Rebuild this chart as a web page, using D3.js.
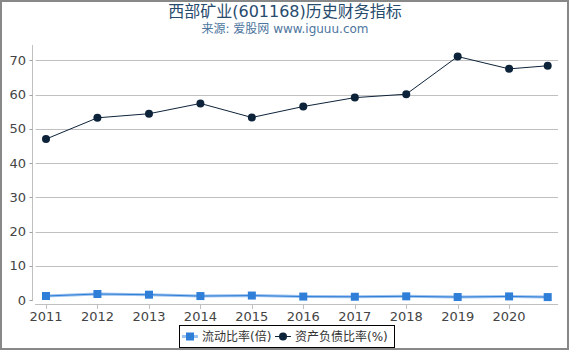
<!DOCTYPE html>
<html>
<head>
<meta charset="utf-8">
<script src="https://cdn.jsdelivr.net/npm/d3@7"></script>
<style>
  body { margin: 0; background: #fff; }
  text { font-family: "DejaVu Sans", "Noto Sans CJK SC", sans-serif; }
</style>
</head>
<body>
<div id="chart"></div>
<script>
// data
const dates = ["2011-01-01", "2012-01-01", "2013-01-01", "2014-01-01", "2015-01-01",
    "2016-01-01", "2017-01-01", "2018-01-01", "2019-01-01", "2020-01-01", "2020-10-01"];
const currentRatio = [1.17, 1.75, 1.55, 1.15, 1.3, 1.0, 0.95, 1.07, 0.87, 1.05, 0.85];
const debtRatio = [47.0, 53.2, 54.4, 57.4, 53.3, 56.5, 59.1, 60.1, 71.1, 67.5, 68.4];
const yTicks = [0, 10, 20, 30, 40, 50, 60, 70];
const seriesNames = ["流动比率(倍)", "资产负债比率(%)"];

const W = 570, H = 350;
const parse = d3.timeParse("%Y-%m-%d");
const xDates = dates.map(parse);

const svg = d3.select("#chart").append("svg")
    .attr("width", W)
    .attr("height", H);

svg.append("rect")
    .attr("x", 1).attr("y", 1)
    .attr("width", W - 3).attr("height", H - 2)
    .attr("fill", "#fff")
    .attr("stroke", "#888")
    .attr("stroke-width", 2);

// titles
svg.append("text")
    .attr("x", 285).attr("y", 17)
    .attr("text-anchor", "middle")
    .attr("font-size", "16px")
    .attr("fill", "#274b6d")
    .text("西部矿业(601168)历史财务指标");
svg.append("text")
    .attr("x", 285).attr("y", 33)
    .attr("text-anchor", "middle")
    .attr("font-size", "12px")
    .attr("fill", "#4d759e")
    .text("来源: 爱股网 www.iguuu.com");

const plotLeft = 32.5, plotRight = 558, plotTop = 45, plotBottom = 304;

const xScale = d3.scaleTime().domain(d3.extent(xDates)).range([46, 547.7]);
const yScale = d3.scaleLinear().domain([0, 70]).range([300, 60.3]);

// horizontal grid lines
svg.selectAll(".grid")
    .data(yTicks.filter(d => d > 0))
    .enter().append("line")
    .attr("class", "grid")
    .attr("x1", 35.5)
    .attr("x2", plotRight)
    .attr("y1", d => Math.round(yScale(d)) + 0.5)
    .attr("y2", d => Math.round(yScale(d)) + 0.5)
    .attr("stroke", "#c0c0c0")
    .attr("stroke-width", 1);

// y axis
svg.append("line")
    .attr("x1", plotLeft).attr("x2", plotLeft)
    .attr("y1", plotTop).attr("y2", 301)
    .attr("stroke", "#c0c0c0");
svg.selectAll(".ytick")
    .data(yTicks)
    .enter().append("line")
    .attr("class", "ytick")
    .attr("x1", 29.5).attr("x2", plotLeft)
    .attr("y1", d => Math.round(yScale(d)) + 0.5)
    .attr("y2", d => Math.round(yScale(d)) + 0.5)
    .attr("stroke", "#a0a0a0");
svg.selectAll(".ylabel")
    .data(yTicks)
    .enter().append("text")
    .attr("class", "ylabel")
    .attr("x", 26)
    .attr("y", d => yScale(d) + 4.5)
    .attr("text-anchor", "end")
    .attr("font-size", "13px")
    .attr("fill", "#444")
    .text(d => d);

// x axis
svg.append("line")
    .attr("x1", 35).attr("x2", plotRight)
    .attr("y1", plotBottom + 0.5).attr("y2", plotBottom + 0.5)
    .attr("stroke", "#c0c0c0");
const xTicks = xScale.ticks(d3.timeYear.every(1));
svg.selectAll(".xtick")
    .data(xTicks)
    .enter().append("line")
    .attr("class", "xtick")
    .attr("x1", d => Math.round(xScale(d)) + 0.5)
    .attr("x2", d => Math.round(xScale(d)) + 0.5)
    .attr("y1", plotBottom)
    .attr("y2", plotBottom + 5)
    .attr("stroke", "#c0c0c0");
svg.selectAll(".xlabel")
    .data(xTicks)
    .enter().append("text")
    .attr("class", "xlabel")
    .attr("x", d => xScale(d))
    .attr("y", 321)
    .attr("text-anchor", "middle")
    .attr("font-size", "13px")
    .attr("fill", "#444")
    .text(d3.timeFormat("%Y"));

// lines
const line = d3.line().x(d => xScale(d.date)).y(d => yScale(d.value));
const blueData = xDates.map((d, i) => ({date: d, value: currentRatio[i]}));
const darkData = xDates.map((d, i) => ({date: d, value: debtRatio[i]}));

svg.append("path")
    .datum(blueData)
    .attr("d", line)
    .attr("fill", "none")
    .attr("stroke", "#9cc2ee")
    .attr("stroke-width", 3);
svg.append("path")
    .datum(blueData)
    .attr("d", line)
    .attr("fill", "none")
    .attr("stroke", "#2f7ed8")
    .attr("stroke-width", 1);
svg.selectAll(".sq")
    .data(blueData)
    .enter().append("rect")
    .attr("class", "sq")
    .attr("x", d => xScale(d.date) - 4)
    .attr("y", d => yScale(d.value) - 4)
    .attr("width", 8)
    .attr("height", 8)
    .attr("fill", "#2f7ed8");

svg.append("path")
    .datum(darkData)
    .attr("d", line)
    .attr("fill", "none")
    .attr("stroke", "#0d233a")
    .attr("stroke-width", 1);
svg.selectAll(".dot")
    .data(darkData)
    .enter().append("circle")
    .attr("class", "dot")
    .attr("cx", d => xScale(d.date))
    .attr("cy", d => yScale(d.value))
    .attr("r", 4)
    .attr("fill", "#0d233a");

// legend
const legend = svg.append("g");
legend.append("rect")
    .attr("x", 179.5).attr("y", 325.5)
    .attr("width", 215).attr("height", 22)
    .attr("fill", "#fff")
    .attr("stroke", "#000");
const ly = 336.5;
legend.append("line")
    .attr("x1", 182).attr("x2", 198).attr("y1", ly).attr("y2", ly)
    .attr("stroke", "#9cc2ee").attr("stroke-width", 3);
legend.append("rect")
    .attr("x", 186).attr("y", ly - 4).attr("width", 8).attr("height", 8)
    .attr("fill", "#2f7ed8");
legend.append("text")
    .attr("x", 202).attr("y", ly + 4.5)
    .attr("font-size", "12px").attr("fill", "#333")
    .text(seriesNames[0]);
legend.append("line")
    .attr("x1", 275).attr("x2", 291).attr("y1", ly).attr("y2", ly)
    .attr("stroke", "#0d233a").attr("stroke-width", 1);
legend.append("circle")
    .attr("cx", 283).attr("cy", ly).attr("r", 4)
    .attr("fill", "#0d233a");
legend.append("text")
    .attr("x", 295).attr("y", ly + 4.5)
    .attr("font-size", "12px").attr("fill", "#333")
    .text(seriesNames[1]);
</script>
</body>
</html>
